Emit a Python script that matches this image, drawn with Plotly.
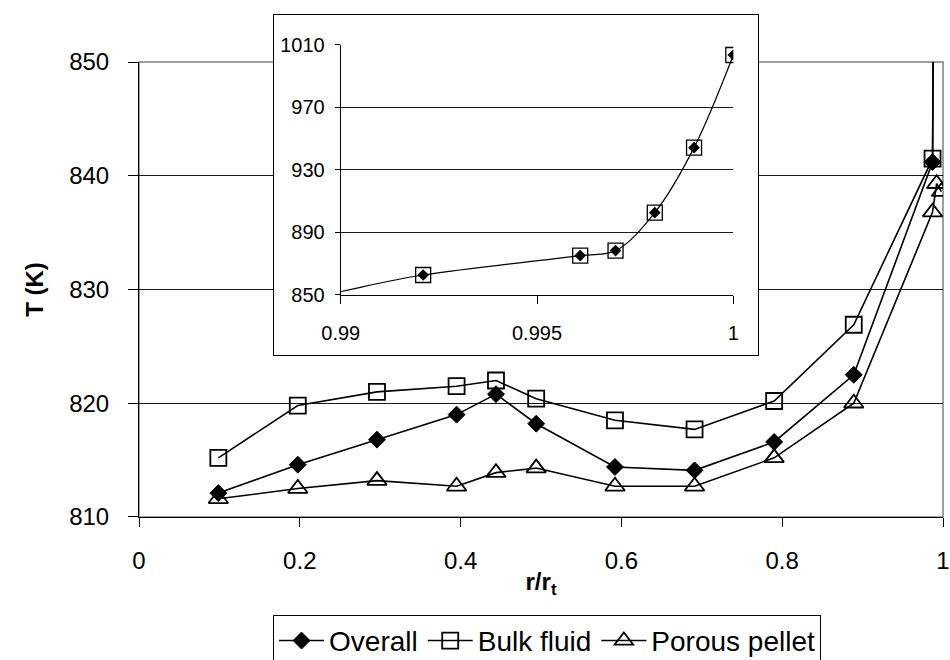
import plotly.graph_objects as go

# Radial positions r/r_t
r_core = [0.0987, 0.1975, 0.296, 0.395, 0.444, 0.494, 0.592, 0.691, 0.790, 0.889, 0.987]
r_wall = [0.9921, 0.9961, 0.997, 0.998, 0.999, 1.0]
r_pellet_tail = [0.9921, 0.998]

# Temperatures (K)
T_overall_core = [812.1, 814.6, 816.8, 819.0, 820.8, 818.2, 814.4, 814.1, 816.6, 822.5, 841.2]
T_bulk_core = [815.2, 819.8, 821.0, 821.5, 822.0, 820.4, 818.5, 817.7, 820.2, 826.9, 841.5]
T_pellet_core = [811.6, 812.5, 813.2, 812.7, 813.9, 814.3, 812.7, 812.7, 815.2, 820.0, 836.8]
T_wall = [862.8, 875.2, 878.4, 902.7, 944.3, 1003.6]
T_pellet_tail = [839.3, 838.6]

x_overall = r_core + r_wall
y_overall = T_overall_core + T_wall
x_bulk = r_core + r_wall
y_bulk = T_bulk_core + T_wall
x_pellet = r_core + r_pellet_tail
y_pellet = T_pellet_core + T_pellet_tail

FONT = "Liberation Sans, Arial, sans-serif"
BLACK = "#000000"
MAIN_TOP = 0.8974  # top of the main plot area, as a fraction of the paper height

fig = go.Figure()

# Main chart
fig.add_trace(go.Scatter(
    x=x_overall, y=y_overall, name="Overall", mode="lines+markers",
    line=dict(color=BLACK, width=1.6),
    marker=dict(symbol="diamond", size=13, color=BLACK, line=dict(color=BLACK, width=1)),
))
fig.add_trace(go.Scatter(
    x=x_bulk, y=y_bulk, name="Bulk fluid", mode="lines+markers",
    line=dict(color=BLACK, width=1.6),
    marker=dict(symbol="square-open", size=16, color=BLACK, line=dict(color=BLACK, width=1.8)),
))
fig.add_trace(go.Scatter(
    x=x_pellet, y=y_pellet, name="Porous pellet", mode="lines+markers",
    line=dict(color=BLACK, width=1.6),
    marker=dict(symbol="triangle-up-open", size=17, color=BLACK, line=dict(color=BLACK, width=1.8)),
))

# Framed white panel behind the inset (axes only, no data)
fig.add_trace(go.Scatter(x=[], y=[], xaxis="x2", yaxis="y2", showlegend=False, hoverinfo="skip"))

# Inset: near-wall region
fig.add_trace(go.Scatter(
    x=x_bulk, y=y_bulk, xaxis="x3", yaxis="y3", mode="markers", showlegend=False,
    marker=dict(symbol="square-open", size=15, color=BLACK, line=dict(color=BLACK, width=1.3)),
))
fig.add_trace(go.Scatter(
    x=x_overall, y=y_overall, xaxis="x3", yaxis="y3", mode="lines+markers", showlegend=False,
    line=dict(color=BLACK, width=1.2, shape="spline", smoothing=1.0),
    marker=dict(symbol="diamond", size=9, color=BLACK),
))

fig.update_layout(
    width=950, height=660,
    margin=dict(l=139, r=7, t=10, b=143, autoexpand=False),
    paper_bgcolor="white", plot_bgcolor="white",
    font=dict(family=FONT, color=BLACK),
    showlegend=True,
    legend=dict(
        orientation="h", x=0.5075, xanchor="center", y=-0.193, yanchor="top",
        font=dict(size=28, family=FONT, color=BLACK),
        bordercolor=BLACK, borderwidth=1, bgcolor="white",
        itemwidth=45, tracegroupgap=0,
    ),
    xaxis=dict(
        domain=[0, 1], range=[0, 1], dtick=0.2, tick0=0,
        showgrid=False, zeroline=False,
        showline=True, linecolor=BLACK, linewidth=1,
        ticks="outside", ticklen=9, tickcolor=BLACK,
        tickfont=dict(size=24, family=FONT), ticklabelstandoff=13,
        title=dict(text="<b>r/r<sub>t</sub></b>", font=dict(size=24, family=FONT), standoff=0),
    ),
    yaxis=dict(
        domain=[0, MAIN_TOP], range=[810, 850], dtick=10,
        showgrid=True, gridcolor="#1a1a1a", gridwidth=1, zeroline=False,
        showline=True, linecolor=BLACK, linewidth=1,
        ticks="outside", ticklen=10, tickcolor=BLACK,
        tickfont=dict(size=24, family=FONT), ticklabelstandoff=14,
        title=dict(text="<b>T (K)</b>", font=dict(size=24, family=FONT), standoff=18),
    ),
    xaxis2=dict(
        domain=[0.1679, 0.7699], range=[0, 1], anchor="y2",
        showgrid=False, zeroline=False, showticklabels=False, ticks="",
        showline=True, mirror=True, linecolor=BLACK, linewidth=1, fixedrange=True,
    ),
    yaxis2=dict(
        domain=[0.3195, 0.9901], range=[0, 1], anchor="x2",
        showgrid=False, zeroline=False, showticklabels=False, ticks="",
        showline=True, mirror=True, linecolor=BLACK, linewidth=1, fixedrange=True,
    ),
    xaxis3=dict(
        domain=[0.2509, 0.7392], range=[0.99, 1.0], anchor="y3",
        tickvals=[0.99, 0.995, 1.0], ticktext=["0.99", "0.995", "1"],
        showgrid=False, zeroline=False,
        showline=True, linecolor=BLACK, linewidth=1,
        ticks="outside", ticklen=8, tickcolor=BLACK,
        tickfont=dict(size=20, family=FONT), ticklabelstandoff=12,
    ),
    yaxis3=dict(
        domain=[0.4379, 0.9310], range=[850, 1010], dtick=40, tick0=850, anchor="x3",
        showgrid=True, gridcolor="#1a1a1a", gridwidth=1, zeroline=False,
        showline=True, linecolor=BLACK, linewidth=1,
        ticks="outside", ticklen=5, tickcolor=BLACK,
        tickfont=dict(size=20, family=FONT), ticklabelstandoff=6,
    ),
    # grey frame of the main plot area
    shapes=[dict(
        type="rect", xref="paper", yref="paper", x0=0, x1=1, y0=0, y1=MAIN_TOP,
        line=dict(color="#808080", width=1.5), fillcolor="rgba(0,0,0,0)", layer="below",
    )],
)

fig.write_html("out.html")
